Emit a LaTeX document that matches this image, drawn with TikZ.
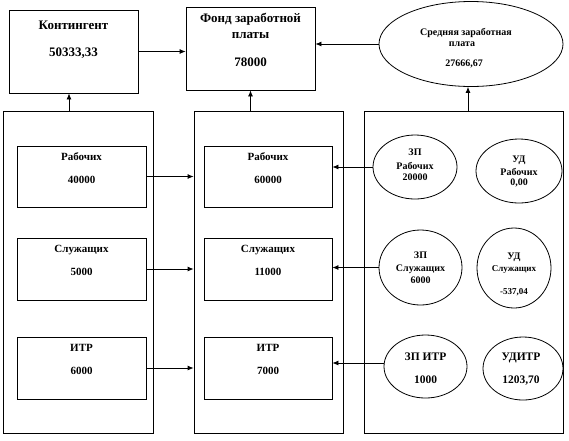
\documentclass[tikz,border=0pt]{standalone}
\usepackage{fontspec}
\setmainfont{Liberation Serif}
\usetikzlibrary{arrows.meta,shapes.geometric}
\begin{document}
\begin{tikzpicture}[x=1pt,y=-1pt,line width=0.8pt,
  frame/.style={draw,rectangle,inner sep=0pt},
  oval/.style={draw,ellipse,inner sep=0pt},
  arr/.style={-{Latex[length=6pt,width=5pt]}},
  tbig/.style={anchor=base,inner sep=0pt,font=\bfseries\fontsize{13}{15}\selectfont},
  tmid/.style={anchor=base,inner sep=0pt,font=\bfseries\fontsize{11}{13}\selectfont},
  tell/.style={anchor=base,inner sep=0pt,font=\bfseries\fontsize{10}{12}\selectfont},
  tsml/.style={anchor=base,inner sep=0pt,font=\bfseries\fontsize{9}{11}\selectfont},
  titr/.style={anchor=base,inner sep=0pt,font=\bfseries\fontsize{11.5}{13}\selectfont}]
\useasboundingbox (0,0) rectangle (569,440);
% top row
\node[frame,minimum width=129pt,minimum height=83pt] (kont) at (73.5,51.5) {};
\node[frame,minimum width=129pt,minimum height=83pt] (fond) at (250.5,48.5) {};
\node[oval,minimum width=184pt,minimum height=85pt] (avg) at (471,44) {};
\node[tbig] (kontT) at (73.5,29.5) {Контингент};
\node[tbig] (kontV) at (73.5,56.5) {50333,33};
\node[tbig] (fondT1) at (250.5,22) {Фонд заработной};
\node[tbig] (fondT2) at (250.5,38.5) {платы};
\node[tbig] (fondV) at (250.5,66.5) {78000};
\node[tell] (avgT1) at (466,35.5) {Средняя заработная};
\node[tell] (avgT2) at (462,46) {плата};
\node[tell] (avgV) at (464,66.5) {27666,67};
% panels
\node[frame,minimum width=150pt,minimum height=322pt] (panL) at (78,272) {};
\node[frame,minimum width=149pt,minimum height=322pt] (panM) at (268.5,272) {};
\node[frame,minimum width=199pt,minimum height=322pt] (panR) at (463.5,272) {};
% left inner boxes
\node[frame,minimum width=129pt,minimum height=61pt] (lR) at (81.5,176.5) {};
\node[frame,minimum width=129pt,minimum height=62pt] (lS) at (81.5,269) {};
\node[frame,minimum width=129pt,minimum height=62pt] (lI) at (81.5,368) {};
\node[tmid] (lRT) at (81.5,160.5) {Рабочих};
\node[tmid] (lRV) at (81.5,183.5) {40000};
\node[tmid] (lST) at (81.5,252.5) {Служащих};
\node[tmid] (lSV) at (81.5,275.5) {5000};
\node[tmid] (lIT) at (81.5,351.5) {ИТР};
\node[tmid] (lIV) at (81.5,374.5) {6000};
% middle inner boxes
\node[frame,minimum width=128pt,minimum height=61pt] (mR) at (268,176.5) {};
\node[frame,minimum width=128pt,minimum height=62pt] (mS) at (268,269) {};
\node[frame,minimum width=128pt,minimum height=62pt] (mI) at (268,368) {};
\node[tmid] (mRT) at (268,160.5) {Рабочих};
\node[tmid] (mRV) at (268,183.5) {60000};
\node[tmid] (mST) at (268,252.5) {Служащих};
\node[tmid] (mSV) at (268,275.5) {11000};
\node[tmid] (mIT) at (268,351.5) {ИТР};
\node[tmid] (mIV) at (268,374.5) {7000};
% right ellipses
\node[oval,minimum width=84pt,minimum height=64pt] (zR) at (415,167) {};
\node[oval,minimum width=86pt,minimum height=64pt] (uR) at (519,171) {};
\node[oval,minimum width=83pt,minimum height=75pt] (zS) at (420.5,267.5) {};
\node[oval,minimum width=74pt,minimum height=80pt] (uS) at (514,268) {};
\node[oval,minimum width=83pt,minimum height=63pt] (zI) at (425.5,366.5) {};
\node[oval,minimum width=80pt,minimum height=63pt] (uI) at (523,368.5) {};
\node[tell] (zRT1) at (415,155.5) {ЗП};
\node[tell] (zRT2) at (415,169.5) {Рабочих};
\node[tell] (zRV) at (415,180.5) {20000};
\node[tell] (uRT1) at (519,162.5) {УД};
\node[tell] (uRT2) at (519,175.5) {Рабочих};
\node[tell] (uRV) at (519,185.5) {0,00};
\node[tell] (zST1) at (420.5,258.5) {ЗП};
\node[tell] (zST2) at (420.5,271) {Служащих};
\node[tell] (zSV) at (420.5,283.5) {6000};
\node[tell] (uST1) at (514,259.5) {УД};
\node[tsml] (uST2) at (514,271) {Служащих};
\node[tsml] (uSV) at (514,294) {-537,04};
\node[titr] (zIT) at (425.5,360) {ЗП ИТР};
\node[titr] (zIV) at (425.5,383) {1000};
\node[titr] (uIT) at (521,360) {УДИТР};
\node[titr] (uIV) at (521,383) {1203,70};
% connectors
\draw[arr] (kont.east) -- (kont.east -| fond.west);
\draw[arr] (avg.west) -- (avg.west -| fond.east);
\coordinate (upL) at (69,111);
\draw[arr] (upL) -- (upL |- kont.south);
\draw[arr] (fond.south |- panM.north) -- (fond.south);
\coordinate (upR) at (468,111);
\draw[arr] (upR) -- (upR |- avg.south);
\draw[arr] (lR.east) -- (lR.east -| panM.west);
\draw[arr] (lS.east) -- (lS.east -| panM.west);
\draw[arr] (lI.east) -- (lI.east -| panM.west);
\draw[arr] (zR.west) -- (zR.west -| mR.east);
\draw[arr] (zS.west) -- (zS.west -| mS.east);
\draw[arr] ([yshift=3.5pt]zI.west) -- ([yshift=3.5pt]zI.west -| mI.east);
\end{tikzpicture}
\end{document}
